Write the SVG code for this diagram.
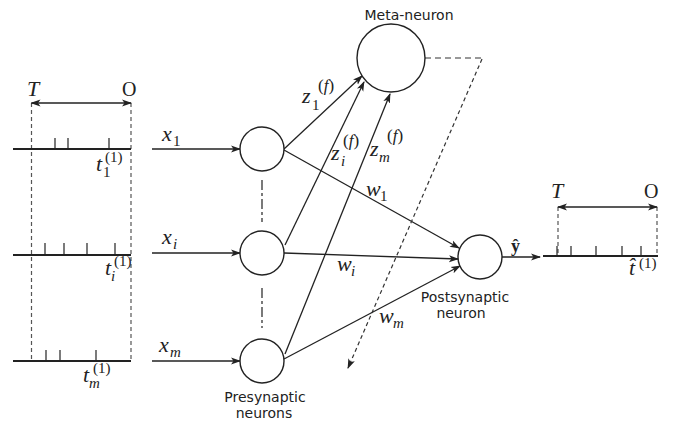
<svg xmlns="http://www.w3.org/2000/svg" width="673" height="426" viewBox="0 0 673 426">
<defs>
<marker id="ah" markerWidth="10" markerHeight="8" refX="9" refY="4" orient="auto" markerUnits="userSpaceOnUse">
<path d="M0,0.5 L10,4 L0,7.5 L2.5,4 z" fill="#222"/>
</marker>
<marker id="ah2" markerWidth="10" markerHeight="8" refX="9" refY="4" orient="auto-start-reverse" markerUnits="userSpaceOnUse">
<path d="M0,0.5 L10,4 L0,7.5 L2.5,4 z" fill="#222"/>
</marker>
<style>
.ln{stroke:#222;stroke-width:1.3;fill:none}
.arr{stroke:#222;stroke-width:1.3;fill:none;marker-end:url(#ah)}
.base{stroke:#222;stroke-width:2;fill:none}
.tick{stroke:#222;stroke-width:1.2}
.dash{stroke:#555;stroke-width:1.2;stroke-dasharray:4 3;fill:none}
.nd{fill:#fff;stroke:#222;stroke-width:1.4}
.m{font-family:"Liberation Serif",serif;font-style:italic;font-size:22px;fill:#222}
.s{font-family:"Liberation Serif",serif;font-style:italic;font-size:15px;fill:#222}
.p{font-family:"Liberation Serif",serif;font-size:15px;fill:#222}
.f{font-family:"Liberation Serif",serif;font-size:17px;fill:#222}
.r{font-family:"Liberation Serif",serif;font-size:20px;fill:#222}
.lbl{font-family:"DejaVu Sans",sans-serif;font-size:14px;fill:#222;text-anchor:middle}
</style>
</defs>

<g id="input-trains">
<line class="dash" x1="31.5" y1="103" x2="31.5" y2="361"/>
<line class="dash" x1="131" y1="103" x2="131" y2="361"/>
<line class="ln" x1="31.5" y1="103" x2="131" y2="103" marker-start="url(#ah2)" marker-end="url(#ah2)"/>
<text class="m" x="27" y="96">T</text>
<text class="r" x="122" y="96">O</text>
<line class="base" x1="13" y1="149" x2="131" y2="149"/>
<line class="tick" x1="55" y1="149" x2="55" y2="138"/>
<line class="tick" x1="68" y1="149" x2="68" y2="138"/>
<line class="tick" x1="109" y1="149" x2="109" y2="138"/>
<text class="m" x="96" y="171">t</text><text class="p" x="103" y="177">1</text><text class="p" x="105" y="162">(1)</text>
<line class="base" x1="13" y1="255" x2="131" y2="255"/>
<line class="tick" x1="45" y1="255" x2="45" y2="243"/>
<line class="tick" x1="64" y1="255" x2="64" y2="243"/>
<line class="tick" x1="87" y1="255" x2="87" y2="243"/>
<line class="tick" x1="115" y1="255" x2="115" y2="243"/>
<text class="m" x="105" y="275">t</text><text class="s" x="111" y="281">i</text><text class="p" x="114" y="266">(1)</text>
<line class="base" x1="13" y1="361" x2="131" y2="361"/>
<line class="tick" x1="46" y1="361" x2="46" y2="350"/>
<line class="tick" x1="60" y1="361" x2="60" y2="350"/>
<line class="tick" x1="96" y1="361" x2="96" y2="350"/>
<text class="m" x="83" y="382">t</text><text class="s" x="89" y="388">m</text><text class="p" x="93" y="373">(1)</text>
</g>

<g id="connectors">
<line class="arr" x1="152" y1="149" x2="240" y2="149"/>
<line class="arr" x1="152" y1="253" x2="240" y2="253"/>
<line class="arr" x1="152" y1="361" x2="240" y2="361"/>
<line class="arr" x1="284" y1="149" x2="362" y2="76"/>
<line class="arr" x1="285" y1="245" x2="364" y2="82"/>
<line class="arr" x1="285" y1="354" x2="390" y2="94"/>
<line class="arr" x1="284" y1="150" x2="459" y2="248"/>
<line class="arr" x1="284" y1="253" x2="458" y2="259"/>
<line class="arr" x1="284" y1="359" x2="460" y2="266"/>
<line class="arr" x1="502" y1="257" x2="540" y2="257"/>
<line stroke="#333" stroke-width="1.3" stroke-dasharray="10 3 3 3" x1="262" y1="180" x2="262" y2="222"/>
<line stroke="#333" stroke-width="1.3" stroke-dasharray="10 3 3 3" x1="262" y1="288" x2="262" y2="328"/>
<line stroke="#333" stroke-width="1.2" stroke-dasharray="6 4" x1="425" y1="58" x2="482" y2="58"/>
<line stroke="#333" stroke-width="1.2" stroke-dasharray="4 3" x1="482" y1="59" x2="348" y2="368" marker-end="url(#ah)"/>
</g>

<g id="labels">
<text class="m" x="162" y="141">x</text><text class="p" x="173" y="146">1</text>
<text class="m" x="162" y="244">x</text><text class="s" x="173" y="249">i</text>
<text class="m" x="159" y="352">x</text><text class="s" x="170" y="357">m</text>
<text class="m" x="302" y="103">z</text><text class="p" x="312" y="110">1</text><text class="f" x="318" y="91">(<tspan font-style="italic">f</tspan>)</text>
<text class="m" x="331" y="160">z</text><text class="s" x="341" y="166">i</text><text class="f" x="343" y="146">(<tspan font-style="italic">f</tspan>)</text>
<text class="m" x="370" y="156">z</text><text class="s" x="379" y="162">m</text><text class="f" x="387" y="141">(<tspan font-style="italic">f</tspan>)</text>
<text class="m" x="366" y="196">w</text><text class="p" x="380" y="201">1</text>
<text class="m" x="337" y="271">w</text><text class="s" x="351" y="276">i</text>
<text class="m" x="379" y="323">w</text><text class="s" x="393" y="328">m</text>
<text x="511" y="252" font-family="Liberation Serif,serif" font-weight="bold" font-size="18" fill="#222">ŷ</text>
</g>

<g id="meta-neuron">
<circle class="nd" cx="391" cy="58" r="34"/>
<text class="lbl" x="409" y="20">Meta-neuron</text>
</g>
<g id="pre-1"><circle class="nd" cx="262" cy="149" r="22"/></g>
<g id="pre-i"><circle class="nd" cx="262" cy="253" r="22"/></g>
<g id="pre-m"><circle class="nd" cx="262" cy="361" r="22"/>
<text class="lbl" x="265" y="402">Presynaptic</text>
<text class="lbl" x="264" y="418">neurons</text>
</g>
<g id="postsynaptic">
<circle class="nd" cx="480" cy="257" r="22"/>
<text class="lbl" x="465" y="302">Postsynaptic</text>
<text class="lbl" x="461" y="318">neuron</text>
</g>

<g id="output-train">
<line class="dash" x1="558" y1="207" x2="558" y2="256"/>
<line class="dash" x1="657" y1="207" x2="657" y2="256"/>
<line class="ln" x1="558" y1="207" x2="657" y2="207" marker-start="url(#ah2)" marker-end="url(#ah2)"/>
<text class="m" x="551" y="198">T</text>
<text class="r" x="644" y="198">O</text>
<line class="base" x1="543" y1="256" x2="658" y2="256" stroke-width="1.5"/>
<line class="tick" x1="557" y1="256" x2="557" y2="246"/>
<line class="tick" x1="571" y1="256" x2="571" y2="246"/>
<line class="tick" x1="596" y1="256" x2="596" y2="246"/>
<line class="tick" x1="622" y1="256" x2="622" y2="246"/>
<line class="tick" x1="641" y1="256" x2="641" y2="246"/>
<text class="m" x="629" y="275">t&#x302;</text><text class="p" x="639" y="268">(1)</text>
</g>
</svg>
